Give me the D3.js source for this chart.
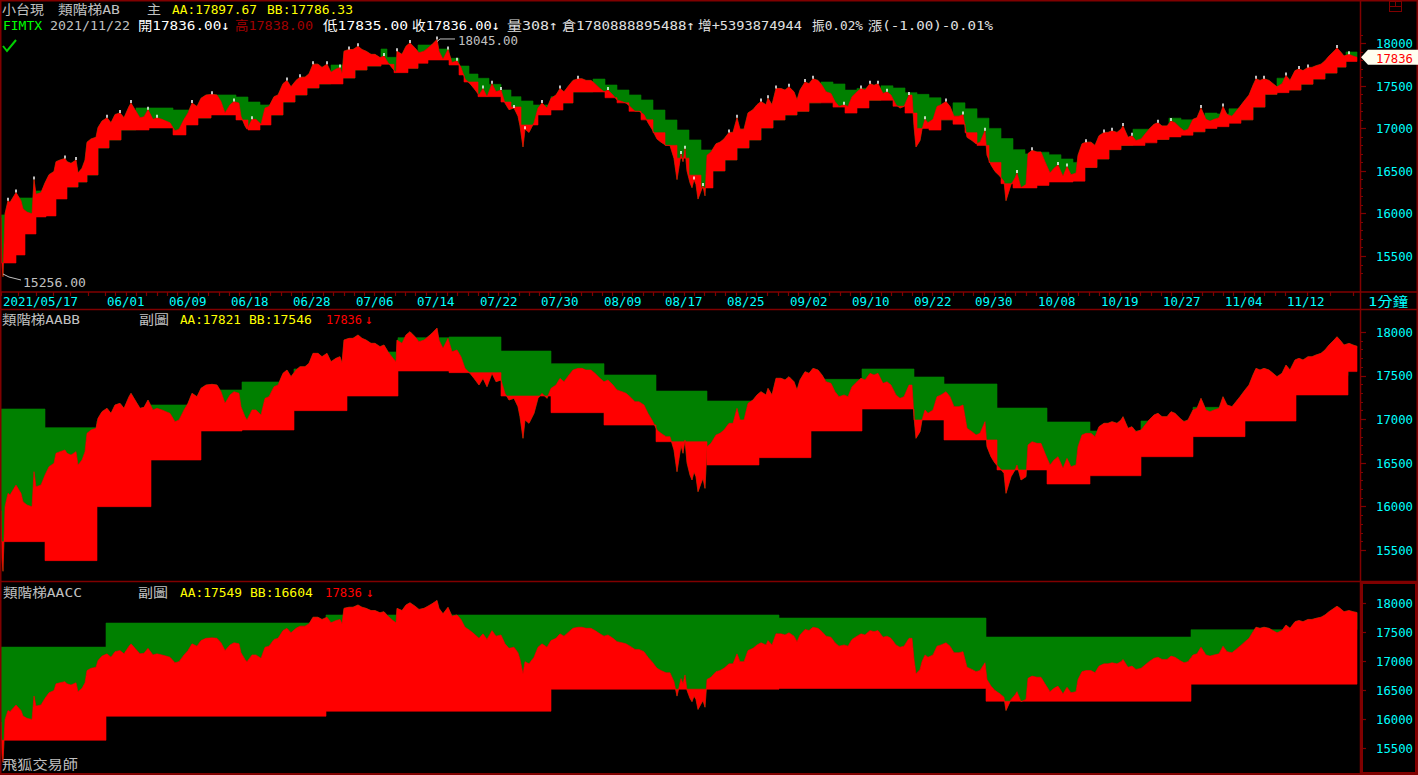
<!DOCTYPE html>
<html><head><meta charset="utf-8">
<script src="https://cdn.jsdelivr.net/npm/d3@7"></script>
<style>
html,body{margin:0;padding:0;background:#000;overflow:hidden}
svg{display:block}
text{font-family:"DejaVu Sans Mono","Noto Sans CJK TC",monospace;font-size:13px}
</style></head><body>
<svg id="c" width="1418" height="775"></svg>
<script>
// ---- price (close) series: bar index -> value ----
const priceT=[0,1,2,4,7,9,13,15,20,22,26,31,33,35,40,44,48,53,55,59,64,66,70,75,77,81,84,86,90,95,97,101,106,110,114,119,123,128,130,134,139,143,147,152,156,161,165,169,174,178,183,187,191,196,200,205,211,216,220,224,229,233,238,240,244,246,251,255,260,264,268,273,277,282,286,290,295,299,304,308,312,317,321,326,330,335,339,341,343,348,352,357,361,365,370,374,379,383,387,392,395,396,401,405,409,414,418,423,427,431,436,438,442,447,451,456,460,464,469,473,478,482,486,491,495,500,504,508,513,517,519,522,524,528,533,537,541,546,550,555,559,563,568,572,577,581,585,590,594,599,603,607,612,616,621,625,629,634,638,643,647,651,656,660,665,669,673,676,680,682,684,686,689,691,693,695,697,700,702,704,706,710,715,719,723,728,732,736,739,743,747,752,756,760,765,767,771,775,780,784,788,793,796,799,804,808,812,817,821,825,830,834,838,843,847,851,856,860,864,869,873,877,882,886,890,895,899,903,908,911,913,915,919,921,924,927,932,936,940,945,949,953,958,962,966,971,975,979,984,986,990,994,999,1003,1005,1010,1014,1016,1020,1025,1027,1031,1036,1040,1044,1049,1053,1057,1062,1066,1070,1075,1077,1081,1085,1090,1094,1098,1103,1107,1111,1116,1120,1122,1127,1131,1135,1140,1144,1148,1153,1157,1161,1166,1170,1174,1179,1183,1187,1192,1196,1200,1205,1209,1213,1218,1222,1226,1231,1235,1239,1244,1248,1252,1255,1259,1263,1268,1272,1276,1281,1285,1289,1294,1298,1302,1307,1311,1315,1320,1324,1328,1333,1336,1339,1343,1348,1352,1356];
const priceV=[15950,15400,15256,15997,16150,16130,16207,16245,16150,16054,16016,15997,16398,16226,16245,16360,16456,16494,16609,16628,16647,16609,16589,16628,16475,16532,16628,16838,16876,16895,17010,17086,17125,17067,17163,17182,17125,17258,17297,17220,17125,17136,17220,17106,17125,17106,17086,17067,16972,16991,17106,17182,17297,17258,17354,17392,17400,17392,17316,17182,17278,17316,17297,17144,17029,16991,17106,17106,17048,17239,17258,17373,17392,17526,17564,17488,17564,17602,17602,17641,17755,17755,17717,17755,17660,17698,17717,17641,17908,17927,17927,17966,17927,17908,17870,17870,17832,17851,17774,17698,17660,17908,17870,17966,18004,17946,17889,17908,17946,17985,18045,17908,17813,17927,17774,17794,17717,17583,17526,17469,17392,17469,17373,17526,17430,17450,17297,17220,17239,17144,17029,16781,16991,16953,17067,17239,17297,17239,17354,17392,17469,17430,17507,17564,17583,17583,17564,17564,17526,17469,17430,17450,17392,17335,17316,17297,17258,17201,17201,17163,17067,16991,16876,16838,16800,16800,16647,16398,16700,16609,16762,16500,16360,16303,16398,16341,16169,16264,16322,16207,16685,16723,16819,16838,16876,16953,16953,17125,16991,16991,17182,17220,17278,17316,17278,17354,17278,17469,17469,17450,17488,17430,17335,17450,17545,17526,17583,17564,17507,17430,17411,17316,17258,17278,17258,17373,17430,17469,17450,17526,17507,17526,17411,17430,17392,17278,17239,17258,17392,17392,17029,16781,16857,16991,17106,17067,17106,17258,17278,17316,17258,17144,17144,17163,16895,16857,16819,16838,16972,16685,16570,16494,16437,16379,16150,16341,16418,16475,16303,16341,16704,16742,16723,16723,16609,16475,16532,16570,16437,16551,16456,16475,16685,16819,16838,16838,16800,16914,16953,16953,16972,16953,16991,17029,16895,16914,16857,16876,16933,16991,17048,17067,17029,17029,17086,17067,17010,16972,16991,17106,17125,17239,17106,17086,17106,17125,17258,17163,17144,17201,17258,17335,17392,17507,17583,17564,17583,17564,17526,17488,17526,17621,17564,17679,17698,17679,17717,17717,17736,17755,17794,17851,17908,17946,17908,17851,17870,17851,17836];

// ---- panel 1: 類階梯AB step levels ----
const p1Start=[0,15,24,35,45,55,66,77,86,97,108,120,135,148,160,172,185,197,210,222,235,247,259,270,282,294,306,318,330,342,354,366,380,386,393,407,417,427,437,448,458,463,468,477,488,500,510,520,532,537,550,562,572,592,604,616,628,640,652,664,676,688,700,712,724,736,748,760,772,784,796,808,820,832,844,856,868,880,892,904,916,928,940,952,964,976,988,1000,1012,1024,1036,1048,1060,1072,1084,1096,1108,1120,1132,1144,1156,1168,1180,1192,1204,1216,1228,1240,1252,1264,1276,1288,1300,1312,1324,1336,1345];
const p1AA=[15983,16182,16182,16265,16311,16394,16311,16370,16453,16770,16864,16981,17240,17240,17240,17216,17216,17122,17393,17393,17369,17310,17275,17158,17310,17393,17475,17522,17745,17592,17686,17733,17933,17835,17835,17706,17980,17980,17933,17824,17733,17733,17639,17589,17518,17451,17373,17322,17275,17275,17373,17299,17428,17580,17510,17451,17393,17334,17216,17099,16981,16864,16746,16500,16629,16770,16864,17005,17099,17158,17200,17300,17545,17522,17450,17470,17330,17500,17475,17420,17400,17360,17100,17300,17230,17120,17000,16880,16750,16700,16720,16690,16640,16600,16540,16640,16750,16800,16990,16990,16870,17120,17100,16960,17180,17170,17230,17100,17250,17400,17590,17450,17520,17580,17650,17720,17898];
const p1BB=[15418,15512,15759,15959,15971,16170,16311,16370,16453,16770,16864,16981,16981,17005,17005,16923,17040,17122,17158,17158,17099,16981,17040,17158,17310,17393,17475,17522,17522,17592,17686,17733,17753,17753,17655,17706,17765,17804,17804,17745,17628,17545,17545,17373,17373,17310,17252,17040,17040,17158,17216,17299,17428,17428,17360,17300,17200,17100,16950,16800,16650,16450,16300,16500,16629,16770,16864,17005,17099,17158,17200,17300,17300,17250,17180,17240,17330,17330,17260,17180,17000,16980,17100,17050,16950,16800,16600,16350,16300,16300,16330,16370,16370,16380,16540,16640,16750,16800,16800,16830,16870,16900,16920,16960,17000,17020,17060,17100,17250,17400,17420,17450,17520,17580,17650,17720,17786];

// ---- panel 2: 類階梯AABB ----
const p2Start=[0,44,96,150,200,241,293,346,397,448,500,550,603,655,706,758,810,861,913,943,996,1046,1089,1140,1192,1244,1295,1347];
const p2AA=[17117,16903,16980,17163,17335,17427,17576,17771,17935,17943,17782,17637,17507,17323,17209,17150,17457,17576,17484,17404,17128,16968,16865,16979,17136,17300,17500,17821];
const p2BB=[15596,15378,15997,16532,16865,16876,17098,17266,17553,17534,17266,17075,16933,16742,16475,16559,16865,17117,16991,16762,16418,16257,16352,16570,16800,16979,17278,17546];

// ---- panel 3: 類階梯AACC ----
const p3Start=[0,105,325,550,778,985,1190];
const p3AA=[17241,17655,17793,17793,17741,17414,17540];
const p3BB=[15638,16052,16138,16517,16530,16310,16604];

// ---- axis labels ----
const dateLabels=["2021/05/17","06/01","06/09","06/18","06/28","07/06","07/14","07/22","07/30","08/09","08/17","08/25","09/02","09/10","09/22","09/30","10/08","10/19","10/27","11/04","11/12"];
const dateIdx=[0,104,166,228,290,353,414,477,538,601,662,724,787,849,911,972,1035,1098,1160,1222,1284];
const yTicks=[15500,16000,16500,17000,17500,18000];

const W=1418,H=775,DARK="#800000";
const svg=d3.select("#c");
svg.append("rect").attr("width",W).attr("height",H).attr("fill","#000");

const x=d3.scaleLinear().domain([0,1357]).range([1,1358]);
const panels=[
  {y:d3.scaleLinear().domain([15500,18000]).range([256,43.3]),top:1,bottom:291.5,s:p1Start,aa:p1AA,bb:p1BB,minor:[15300,18100],wicks:true},
  {y:d3.scaleLinear().domain([15500,18000]).range([550,332]),top:310,bottom:581,s:p2Start,aa:p2AA,bb:p2BB,minor:[15500,18000]},
  {y:d3.scaleLinear().domain([15500,18000]).range([748.3,603]),top:582.5,bottom:773,s:p3Start,aa:p3AA,bb:p3BB,minor:null}
];

function pAt(t){
  let i=d3.bisectRight(priceT,t)-1;
  if(i<0)i=0;
  if(i>=priceT.length-1)return priceV[priceV.length-1];
  const t0=priceT[i],t1=priceT[i+1];
  return priceV[i]+(priceV[i+1]-priceV[i])*(t-t0)/(t1-t0);
}
function buildPts(starts,aa,bb){
  const tEnd=priceT[priceT.length-1];
  const ts=Array.from(new Set(priceT.concat(starts.filter(s=>s<=tEnd)))).sort((a,b)=>a-b);
  const pts=[];
  ts.forEach(t=>{
    const k=d3.bisectRight(starts,t)-1;
    const p=pAt(t);
    if(k>0&&starts[k]===t)pts.push({t,p,aa:aa[k-1],bb:bb[k-1]});
    pts.push({t,p,aa:aa[k],bb:bb[k]});
  });
  return pts;
}

panels.forEach((P,pi)=>{
  const id="clip"+pi;
  svg.append("clipPath").attr("id",id).append("rect")
    .attr("x",1).attr("y",P.top).attr("width",1359).attr("height",P.bottom-P.top);
  const g=svg.append("g").attr("clip-path",`url(#${id})`);
  const pts=buildPts(P.s,P.aa,P.bb);
  const green=d3.area().x(d=>x(d.t)).y0(d=>P.y(d.aa)).y1(d=>P.y(d.p));
  const red=d3.area().x(d=>x(d.t)).y0(d=>P.y(d.bb)).y1(d=>P.y(d.p));
  g.append("path").datum(pts).attr("d",green).attr("fill","#008000").attr("stroke","#008000").attr("stroke-width",0.6);
  g.append("path").datum(pts).attr("d",red).attr("fill","#ff0000").attr("stroke","#ff0000").attr("stroke-width",0.6);
  if(P.wicks){
    const idx=d3.range(1,priceV.length-1).filter(i=>priceV[i]>priceV[i-1]&&priceV[i]>=priceV[i+1]);
    g.selectAll(".wk").data(idx).join("line")
      .attr("x1",i=>x(priceT[i])).attr("x2",i=>x(priceT[i]))
      .attr("y1",i=>P.y(priceV[i])).attr("y2",i=>P.y(priceV[i])-3)
      .attr("stroke","#fff").attr("stroke-width",1.5);
  }
  // right axis
  const ax=svg.append("g");
  if(P.minor){
    const mins=d3.range(P.minor[0],P.minor[1]+1,100).filter(v=>v%500!==0);
    ax.selectAll(".mn").data(mins).join("line")
      .attr("x1",1361).attr("x2",1363).attr("y1",v=>Math.round(P.y(v))+0.5).attr("y2",v=>Math.round(P.y(v))+0.5)
      .attr("stroke",DARK).attr("stroke-width",1.2);
  }
  ax.selectAll(".mj").data(yTicks).join("line")
    .attr("x1",1361).attr("x2",1366).attr("y1",v=>Math.round(P.y(v))+0.5).attr("y2",v=>Math.round(P.y(v))+0.5)
    .attr("stroke",DARK).attr("stroke-width",1.2);
  ax.selectAll(".lb").data(yTicks).join("text")
    .attr("x",1376).attr("y",v=>P.y(v)+4.8).attr("fill","#00ffff")
    .attr("textLength",37).attr("lengthAdjust","spacingAndGlyphs").text(v=>v);
});

// frame & separators
const ln=(x1,y1,x2,y2,w)=>svg.append("line").attr("x1",x1).attr("y1",y1).attr("x2",x2).attr("y2",y2).attr("stroke",DARK).attr("stroke-width",w||1.5);
ln(0,0.75,W,0.75);ln(0.75,0,0.75,H);ln(0,774,W,774,2);ln(1417.25,0,1417.25,H);
ln(1360.5,0,1360.5,H);
ln(0,292,W,292);ln(0,309.5,W,309.5);ln(0,581.5,W,581.5);
svg.append("rect").attr("x",1362).attr("y",583).attr("width",54).attr("height",190).attr("fill","none").attr("stroke",DARK).attr("stroke-width",2);
// top-right icon
svg.append("rect").attr("x",1389.5).attr("y",1.5).attr("width",12).attr("height",10).attr("fill","none").attr("stroke",DARK);
ln(1389.5,6.5,1401.5,6.5,1);ln(1395.5,1.5,1395.5,6.5,1);

// date band
const dTicks=[];
dateIdx.forEach((d,i)=>{
  const nxt=i<dateIdx.length-1?dateIdx[i+1]:1357+ (dateIdx[i]-dateIdx[i-1]);
  for(let k=0;k<6;k++){const t=d+(nxt-d)*k/6; if(t<=1357)dTicks.push(t);}
});
svg.selectAll(".dt").data(dTicks).join("line")
  .attr("x1",t=>Math.round(x(t))+0.5).attr("x2",t=>Math.round(x(t))+0.5)
  .attr("y1",292).attr("y2",296).attr("stroke",DARK).attr("stroke-width",1.2);
svg.selectAll(".dl").data(dateLabels).join("text")
  .attr("x",(d,i)=>x(dateIdx[i])+2).attr("y",305.5).attr("fill","#00ffff")
  .attr("textLength",d=>d.length*7.5).attr("lengthAdjust","spacingAndGlyphs").text(d=>d);

// text helper
function txt(xp,yp,s,color,len){
  const t=svg.append("text").attr("x",xp).attr("y",yp).attr("fill",color).text(s);
  if(len)t.attr("textLength",len).attr("lengthAdjust","spacingAndGlyphs");
  return t;
}
txt(1368,305.5,"1分鐘","#00ffff",40);

// header line 1
txt(2,13.5,"小台現","#c0c0c0",42);
txt(58,13.5,"類階梯AB","#c0c0c0",62);
txt(147,13.5,"主","#c0c0c0",14);
txt(172,13.5,"AA:17897.67","#ffff00",85);
txt(267,13.5,"BB:17786.33","#ffff00",86);
// header line 2
txt(3,29.5,"FIMTX","#00ff00",39);
txt(50,29.5,"2021/11/22","#c0c0c0",80);
txt(138,29.5,"開17836.00↓","#ffffff",92);
txt(235,29.5,"高17838.00","#a00000",78);
txt(323,29.5,"低17835.00","#ffffff",85);
txt(412,29.5,"收17836.00↓","#ffffff",88);
txt(507,29.5,"量308↑","#e0e0e0",51);
txt(562,29.5,"倉1780888895488↑","#e0e0e0",133);
txt(698,29.5,"增+5393874944","#e0e0e0",104);
txt(812,29.5,"振0.02%","#e0e0e0",51);
txt(868,29.5,"漲(-1.00)-0.01%","#e0e0e0",125);

// panel 2 header
txt(2,323.5,"類階梯AABB","#c0c0c0",78);
txt(139,323.5,"副圖","#c0c0c0",30);
txt(180,323.5,"AA:17821","#ffff00",61);
txt(249,323.5,"BB:17546","#ffff00",63);
txt(326,323.5,"17836","#ff0000",36);
txt(365,323.5,"↓","#ff0000",8);
// panel 3 header
txt(3,596.5,"類階梯AACC","#c0c0c0",79);
txt(138,596.5,"副圖","#c0c0c0",30);
txt(180,596.5,"AA:17549","#ffff00",62);
txt(250,596.5,"BB:16604","#ffff00",63);
txt(325,596.5,"17836","#ff0000",37);
txt(366,596.5,"↓","#ff0000",8);
// footer
txt(2,769,"飛狐交易師","#c0c0c0",76);

// extreme annotations in panel 1
const y1=panels[0].y;
const hiI=priceV.indexOf(d3.max(priceV)), loI=priceV.indexOf(d3.min(priceV));
svg.append("polyline").attr("points",`${x(priceT[hiI])},${y1(priceV[hiI])+2} ${x(priceT[hiI])+3},${y1(priceV[hiI])-0.5} 455,${y1(priceV[hiI])-0.5}`)
  .attr("fill","none").attr("stroke","#c0c0c0").attr("stroke-width",1);
txt(458,45,d3.format(".2f")(priceV[hiI]),"#c0c0c0",60);
svg.append("polyline").attr("points",`${x(priceT[loI])},274 9,277 21,280`)
  .attr("fill","none").attr("stroke","#c0c0c0").attr("stroke-width",1);
txt(23,287,d3.format(".2f")(priceV[loI]),"#c0c0c0",63);

// check mark
svg.append("path").attr("d","M3,46 L7,51 L16,40").attr("fill","none").attr("stroke","#00d000").attr("stroke-width",2);

// last price tag
const last=priceV[priceV.length-1], ly=y1(last);
svg.append("polygon").attr("points",`1361,${ly} 1368,${ly-7.5} 1418,${ly-7.5} 1418,${ly+7.5} 1368,${ly+7.5}`).attr("fill","#fffff0");
txt(1376,ly+6.2,String(last),"#ff0000",37);
</script>
</body></html>
